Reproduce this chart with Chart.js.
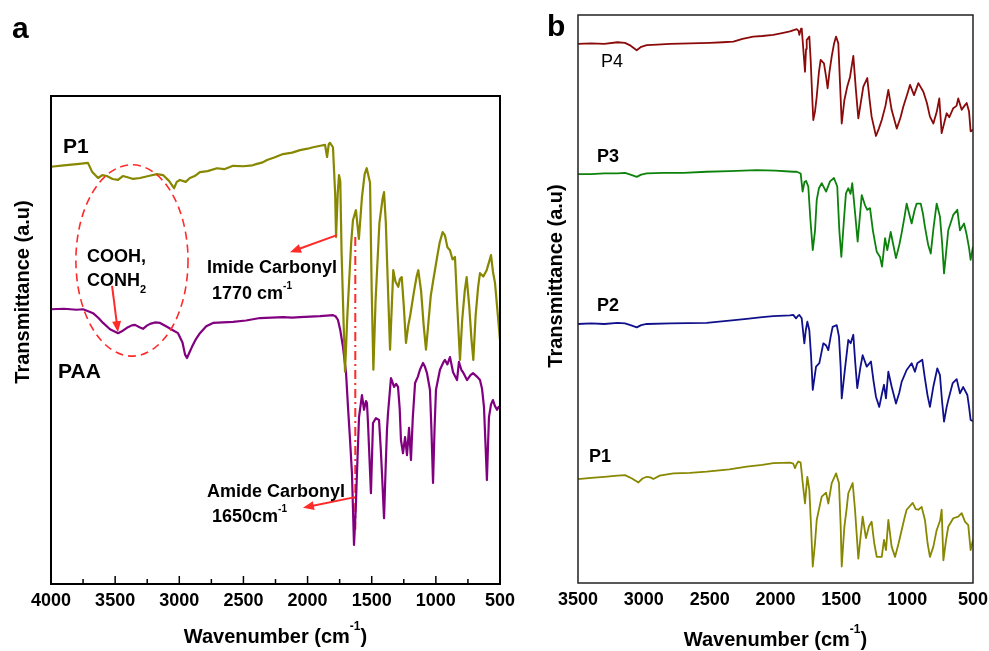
<!DOCTYPE html>
<html>
<head>
<meta charset="utf-8">
<script src="https://cdn.jsdelivr.net/npm/chart.js@4.4.1/dist/chart.umd.min.js"></script>
<style>
  html, body { margin: 0; padding: 0; background: #fff; }
  #wrap { position: relative; width: 989px; height: 651px; overflow: hidden; }
  canvas { position: absolute; top: 0; }
  #chartA { left: 0; }
  #chartB { left: 520px; }
</style>
</head>
<body>
<div id="wrap">
  <canvas id="chartA" width="520" height="651"></canvas>
  <canvas id="chartB" width="469" height="651"></canvas>
</div>
<script>
// ---- panel a: P1 and PAA (wavenumber, transmittance a.u.) ----
const p1aWn = [4000,3900,3780,3712,3680,3633,3600,3565,3520,3478,3440,3410,3360,3306,3240,3175,3127,3080,3041,3020,2995,2950,2917,2880,2839,2780,2706,2650,2581,2500,2430,2394,2350,2316,2260,2191,2120,2059,2000,1957,1900,1864,1848,1835,1825,1802,1785,1778,1765,1755,1745,1735,1708,1690,1660,1646,1623,1600,1576,1555,1539,1513,1500,1487,1470,1440,1415,1404,1390,1370,1357,1345,1332,1315,1293,1280,1266,1250,1233,1215,1202,1170,1150,1137,1115,1095,1077,1060,1040,1020,990,970,947,930,910,890,870,851,835,812,795,775,760,740,722,708,690,670,656,630,604,585,570,555,539,520,500];
const p1aT  = [85.5,85.8,86.1,86.3,84.5,83.2,83.8,83.6,83.0,82.8,83.6,83.4,83.0,83.2,83.6,84.0,83.8,82.6,81.1,82.4,82.8,82.4,83.2,83.6,84.4,84.6,85.2,85.0,85.7,85.6,85.8,86.1,86.4,86.9,87.4,88.1,88.4,88.9,89.2,89.5,89.8,90.0,87.5,90.1,90.4,89.5,80.0,71.1,80.0,83.8,82.5,68.0,43.5,55.0,70.0,74.6,76.6,70.7,79.3,84.0,85.2,82.2,60.0,43.9,58.0,74.0,79.0,80.3,74.0,58.0,48.0,56.0,64.3,62.0,60.9,62.5,62.9,57.0,49.4,53.0,54.7,60.0,63.0,64.3,60.0,53.0,48.0,53.0,59.0,62.3,67.0,70.0,72.1,71.5,69.0,68.4,66.5,67.0,58.0,45.9,54.0,60.0,62.9,57.0,50.0,45.9,55.0,61.0,63.7,63.0,64.3,66.0,67.4,64.0,61.7,56.0,50.0];

const paaWn = [4000,3900,3800,3750,3700,3672,3630,3594,3540,3477,3440,3408,3370,3345,3310,3283,3250,3228,3190,3150,3096,3050,3010,2975,2955,2940,2920,2901,2870,2839,2790,2737,2660,2581,2480,2371,2280,2191,2120,2059,1980,1903,1850,1802,1780,1763,1745,1724,1700,1685,1670,1654,1638,1625,1615,1599,1576,1560,1545,1537,1529,1506,1490,1467,1443,1430,1420,1404,1390,1381,1373,1350,1340,1326,1310,1295,1282,1272,1256,1240,1225,1209,1194,1180,1162,1140,1124,1100,1085,1069,1046,1035,1022,1010,999,968,940,929,910,890,866,835,820,800,788,757,730,710,680,656,640,625,612,602,594,586,570,555,540,523,510,500];
const paaT  = [56.3,56.4,56.2,56.3,55.8,55.5,54.5,53.5,52.2,51.4,51.9,52.5,53.0,53.1,52.6,52.3,53.0,53.3,53.6,53.5,52.7,52.0,51.4,49.5,47.0,46.3,47.5,48.6,50.2,51.4,52.8,53.5,53.6,53.7,54.0,54.5,54.6,54.7,54.6,54.7,54.8,54.9,55.0,55.1,54.8,54.1,52.0,48.6,43.2,36.3,30.0,22.7,8.0,15.0,22.7,34.2,38.7,35.7,37.5,37.1,33.0,18.6,33.0,34.0,33.6,28.0,22.7,13.5,25.0,31.6,35.0,42.2,41.5,40.4,41.0,40.4,36.0,29.5,26.8,30.1,26.4,32.0,25.4,34.0,41.2,42.5,43.9,45.3,44.5,43.2,39.8,32.0,20.7,32.0,39.8,43.9,45.5,45.9,45.0,46.5,43.4,41.8,45.5,43.8,43.4,41.8,42.8,43.2,42.5,41.8,40.0,36.3,28.0,21.3,28.0,34.2,36.8,37.7,36.5,35.7,36.3,36.1];

// marker for the amide carbonyl band
const amideWn = [1628, 1628];
const amideT  = [71.1, 11.1];

// ---- panel b: P4, P3, P2, P1 ----
const p4Wn = [3500,3400,3300,3200,3143,3100,3054,3020,2978,2900,2800,2649,2500,2400,2320,2250,2169,2100,2017,1950,1890,1839,1825,1819,1806,1800,1794,1776,1768,1763,1743,1733,1720,1713,1700,1687,1670,1657,1632,1615,1604,1590,1573,1555,1540,1523,1510,1497,1477,1455,1434,1409,1390,1371,1333,1303,1285,1270,1237,1215,1193,1165,1143,1118,1079,1050,1029,1000,978,948,915,877,850,827,801,775,756,738,700,680,650,625,612,586,565,548,530,518,500];
const p4T  = [94.9,95.0,94.9,95.2,95.1,94.6,93.8,94.4,94.7,94.8,94.9,95.0,95.1,95.2,95.3,95.8,96.2,96.3,96.5,96.8,97.1,97.5,97.2,96.5,97.6,97.3,95.6,90.0,94.0,95.6,96.2,92.1,85.0,81.5,83.0,85.6,90.0,92.1,91.5,89.0,87.1,90.0,92.7,95.0,96.2,95.0,88.0,80.9,85.0,87.4,89.1,92.8,87.0,81.8,87.4,88.9,85.0,82.1,78.7,80.0,81.5,84.0,86.8,83.3,80.0,82.0,83.9,86.0,87.7,85.9,88.0,86.5,84.5,82.1,80.9,83.0,85.3,79.2,82.7,82.0,83.6,84.0,85.3,83.3,84.0,84.5,83.0,79.5,79.8];

const p3Wn = [3500,3400,3300,3200,3143,3090,3054,3020,2978,2850,2700,2523,2350,2143,2000,1865,1839,1809,1794,1780,1768,1751,1735,1717,1700,1687,1670,1649,1616,1586,1556,1531,1515,1500,1480,1465,1447,1430,1417,1395,1376,1345,1320,1303,1282,1260,1231,1206,1191,1168,1151,1125,1105,1085,1060,1042,1020,1004,985,966,945,928,897,880,865,840,821,800,776,751,735,720,705,688,650,619,599,568,548,530,518,500];
const p3T  = [72.0,72.0,72.1,72.1,72.2,71.8,71.5,71.9,72.1,72.2,72.2,72.4,72.5,72.7,72.6,72.4,72.4,72.1,68.9,70.6,70.8,69.8,64.0,58.6,62.0,67.4,69.5,70.4,68.9,70.7,71.3,69.8,62.0,57.4,64.0,68.6,69.5,68.5,70.4,65.0,60.1,68.3,66.5,65.7,66.0,62.0,58.3,57.4,55.7,60.7,58.6,61.8,59.5,57.2,59.5,61.6,64.5,66.8,65.0,63.3,65.5,66.8,66.8,65.0,62.7,59.5,58.0,62.5,66.8,64.5,60.0,54.5,58.0,62.1,64.8,65.7,62.1,63.3,61.3,59.0,56.9,59.2];

const p2Wn = [3500,3400,3300,3200,3143,3090,3054,3020,2978,2800,2523,2350,2219,2100,2017,1890,1865,1844,1830,1819,1801,1781,1770,1758,1743,1730,1717,1692,1667,1637,1615,1599,1580,1566,1535,1518,1505,1497,1472,1447,1429,1409,1395,1379,1355,1338,1307,1275,1255,1237,1212,1190,1176,1161,1143,1118,1085,1060,1042,1004,966,941,923,885,865,845,827,801,771,751,735,720,700,688,654,624,599,574,543,530,518,500];
const p2T  = [45.6,45.7,45.6,45.8,45.7,45.3,45.0,45.4,45.6,45.7,45.8,46.2,46.5,46.8,47.0,47.1,47.2,46.6,47.0,47.2,46.6,42.2,44.5,46.0,44.5,40.0,34.0,38.1,38.7,42.2,41.8,41.0,43.5,45.1,45.4,43.4,38.0,32.5,37.8,42.8,42.2,43.7,39.0,34.3,38.0,40.1,38.1,39.0,35.5,32.8,31.0,33.5,34.9,32.5,37.2,34.6,31.6,33.5,35.4,37.5,38.7,37.2,38.7,39.3,36.0,33.0,31.0,34.6,37.8,36.6,32.0,28.4,31.0,32.2,35.2,35.9,33.4,34.5,33.1,31.0,28.7,28.5];

const p1bWn = [3500,3400,3300,3200,3143,3090,3041,3010,2978,2950,2927,2880,2775,2650,2523,2350,2219,2100,2017,1890,1865,1852,1840,1827,1809,1795,1776,1765,1758,1743,1730,1717,1700,1687,1665,1649,1616,1599,1573,1540,1518,1505,1497,1477,1460,1447,1414,1396,1371,1338,1313,1290,1270,1250,1231,1193,1176,1161,1143,1118,1092,1065,1042,1020,1004,958,935,915,890,865,845,827,801,776,750,738,725,705,688,650,612,586,561,536,518,500];
const p1bT  = [18.3,18.5,18.7,18.9,19.0,18.4,17.7,18.4,18.7,18.6,18.3,18.9,19.3,19.4,19.6,20.0,20.5,20.8,21.1,21.2,21.0,20.2,20.9,21.4,21.2,18.0,14.0,17.0,18.7,16.4,10.0,2.9,7.0,11.1,13.5,15.2,15.9,14.0,17.6,19.3,17.6,10.0,2.9,9.9,13.0,15.8,17.6,12.9,4.3,11.7,7.9,10.0,10.8,7.0,4.6,4.6,7.6,5.8,11.1,6.4,4.6,7.0,9.3,11.5,12.9,14.1,13.0,12.9,13.4,11.1,7.0,4.6,6.4,9.3,11.0,12.9,4.0,7.5,9.9,11.4,11.7,12.3,10.8,10.2,5.8,7.6];

const ticksA = [500, 1000, 1500, 2000, 2500, 3000, 3500, 4000];
const ticksB = [500, 1000, 1500, 2000, 2500, 3000, 3500];

const FONT = '"Liberation Sans", Arial, Helvetica, sans-serif';
Chart.defaults.font.family = FONT;
Chart.defaults.color = '#000';

function pts(xs, ys) {
  return xs.map((x, i) => ({ x: x, y: ys[i] }));
}

function line(label, xs, ys, color, width) {
  return {
    label: label,
    data: pts(xs, ys),
    showLine: true,
    borderColor: color,
    backgroundColor: color,
    borderWidth: width,
    borderJoinStyle: 'round',
    pointRadius: 0,
    tension: 0
  };
}

// draws text made of runs: [text, size, weight, dy]
function rich(ctx, runs, x, y, align) {
  let w = 0;
  runs.forEach(r => {
    ctx.font = `${r[2]} ${r[1]}px ${FONT}`;
    w += ctx.measureText(r[0]).width;
  });
  let cx = align === 'center' ? x - w / 2 : x;
  ctx.textAlign = 'left';
  ctx.textBaseline = 'alphabetic';
  runs.forEach(r => {
    ctx.font = `${r[2]} ${r[1]}px ${FONT}`;
    ctx.fillText(r[0], cx, y + (r[3] || 0));
    cx += ctx.measureText(r[0]).width;
  });
}

function arrow(ctx, x0, y0, x1, y1) {
  const a = Math.atan2(y1 - y0, x1 - x0), L = 11, W = 4.5;
  ctx.beginPath();
  ctx.moveTo(x0, y0);
  ctx.lineTo(x1 - 0.7 * L * Math.cos(a), y1 - 0.7 * L * Math.sin(a));
  ctx.stroke();
  ctx.beginPath();
  ctx.moveTo(x1, y1);
  ctx.lineTo(x1 - L * Math.cos(a) + W * Math.sin(a), y1 - L * Math.sin(a) - W * Math.cos(a));
  ctx.lineTo(x1 - L * Math.cos(a) - W * Math.sin(a), y1 - L * Math.sin(a) + W * Math.cos(a));
  ctx.closePath();
  ctx.fill();
}

function yTitle(ctx, x, y) {
  ctx.save();
  ctx.translate(x, y);
  ctx.rotate(-Math.PI / 2);
  ctx.font = `bold 20px ${FONT}`;
  ctx.textAlign = 'center';
  ctx.textBaseline = 'middle';
  ctx.fillStyle = '#000';
  ctx.fillText('Transmittance (a.u)', 0, 0);
  ctx.restore();
}

function xTitle(ctx, x, y) {
  ctx.fillStyle = '#000';
  rich(ctx, [['Wavenumber (cm', 20, 'bold'], ['-1', 12, 'bold', -13], [')', 20, 'bold']], x, y, 'center');
}

const decorA = {
  id: 'decorA',
  afterDraw(chart) {
    const ctx = chart.ctx, a = chart.chartArea;
    const xs = chart.scales.x, ys = chart.scales.y;
    const X = v => xs.getPixelForValue(v), Y = v => ys.getPixelForValue(v);
    ctx.save();
    // frame and inward ticks
    ctx.strokeStyle = '#000';
    ctx.lineWidth = 2;
    ctx.strokeRect(a.left, a.top, a.right - a.left, a.bottom - a.top);
    ctx.lineWidth = 1.5;
    for (let v = 750; v < 4000; v += 250) {
      const len = v % 500 === 0 ? 8 : 5;
      ctx.beginPath();
      ctx.moveTo(X(v), a.bottom);
      ctx.lineTo(X(v), a.bottom - len);
      ctx.stroke();
    }
    // dashed ellipse round the COOH / CONH2 band
    ctx.strokeStyle = '#ff2a2a';
    ctx.lineWidth = 1.6;
    ctx.setLineDash([8, 5]);
    const cx = X(3369), cy = Y(66.3);
    ctx.beginPath();
    ctx.ellipse(cx, cy, Math.abs(X(3369 - 437) - cx), Math.abs(Y(66.3 + 19.6) - cy), 0, 0, Math.PI * 2);
    ctx.stroke();
    ctx.setLineDash([]);
    // arrows
    ctx.fillStyle = '#ff2a2a';
    ctx.lineWidth = 2;
    arrow(ctx, X(1771), Y(71.5), X(2137), Y(68.0));
    arrow(ctx, X(3524), Y(61.1), X(3478), Y(51.6));
    arrow(ctx, X(1630), Y(17.8), X(2036), Y(15.6));
    // labels
    ctx.fillStyle = '#000';
    rich(ctx, [['P1', 21, 'bold']], X(3906), Y(88.3));
    rich(ctx, [['PAA', 21, 'bold']], X(3945), Y(42.2));
    rich(ctx, [['COOH,', 18, 'bold']], X(3719), Y(66.0));
    rich(ctx, [['CONH', 18, 'bold'], ['2', 11, 'bold', 7]], X(3719), Y(61.1));
    rich(ctx, [['Imide Carbonyl', 18, 'bold']], X(2784), Y(63.7));
    rich(ctx, [['1770 cm', 18, 'bold'], ['-1', 10, 'bold', -10]], X(2745), Y(58.4));
    rich(ctx, [['Amide Carbonyl', 18, 'bold']], X(2784), Y(17.8));
    rich(ctx, [['1650cm', 18, 'bold'], ['-1', 10, 'bold', -10]], X(2745), Y(12.7));
    // titles
    xTitle(ctx, (a.left + a.right) / 2, 643);
    yTitle(ctx, 23, 292);
    rich(ctx, [['a', 30, 'bold']], 12, 38);
    ctx.restore();
  }
};

const decorB = {
  id: 'decorB',
  afterDraw(chart) {
    const ctx = chart.ctx, a = chart.chartArea;
    const xs = chart.scales.x, ys = chart.scales.y;
    const X = v => xs.getPixelForValue(v), Y = v => ys.getPixelForValue(v);
    ctx.save();
    ctx.strokeStyle = '#222';
    ctx.lineWidth = 1.5;
    ctx.strokeRect(a.left, a.top, a.right - a.left, a.bottom - a.top);
    ctx.fillStyle = '#000';
    rich(ctx, [['P4', 18, 'normal']], X(3325), Y(90.8));
    rich(ctx, [['P3', 18, 'bold']], X(3356), Y(74.1));
    rich(ctx, [['P2', 18, 'bold']], X(3356), Y(47.9));
    rich(ctx, [['P1', 18, 'bold']], X(3416), Y(21.3));
    xTitle(ctx, (a.left + a.right) / 2, 646);
    yTitle(ctx, 36, 276);
    rich(ctx, [['b', 30, 'bold']], 27, 36);
    ctx.restore();
  }
};

function xScale(lo, hi, tickVals, h) {
  return {
    type: 'linear',
    min: lo,
    max: hi,
    reverse: true,
    grid: { display: false, drawTicks: false },
    border: { display: false },
    afterBuildTicks: s => { s.ticks = tickVals.map(v => ({ value: v })); },
    ticks: {
      autoSkip: false,
      maxRotation: 0,
      padding: 6,
      color: '#000',
      font: { size: 18, weight: 'bold' },
      callback: v => String(v)
    },
    afterFit: s => { s.height = h; }
  };
}

function yScale(w) {
  return {
    type: 'linear',
    min: 0,
    max: 100,
    ticks: { display: false },
    grid: { display: false, drawTicks: false },
    border: { display: false },
    afterFit: s => { s.width = w; }
  };
}

const baseOpts = {
  responsive: false,
  animation: false,
  plugins: { legend: { display: false }, tooltip: { enabled: false } }
};

new Chart(document.getElementById('chartA'), {
  type: 'scatter',
  data: {
    datasets: [
      line('P1', p1aWn, p1aT, '#878700', 2.2),
      line('PAA', paaWn, paaT, '#800080', 2.2),
      Object.assign(line('1650', amideWn, amideT, '#ff2a2a', 2), { borderDash: [9, 4, 2, 4] })
    ]
  },
  options: Object.assign({}, baseOpts, {
    layout: { padding: { top: 96, right: 20, left: 0, bottom: 0 } },
    scales: { x: xScale(500, 4000, ticksA, 67), y: yScale(51) }
  }),
  plugins: [decorA]
});

new Chart(document.getElementById('chartB'), {
  type: 'scatter',
  data: {
    datasets: [
      line('P4', p4Wn, p4T, '#8b0a0a', 1.8),
      line('P3', p3Wn, p3T, '#0c820c', 1.8),
      line('P2', p2Wn, p2T, '#10108c', 1.8),
      line('P1', p1bWn, p1bT, '#878700', 1.8)
    ]
  },
  options: Object.assign({}, baseOpts, {
    layout: { padding: { top: 15, right: 16, left: 0, bottom: 0 } },
    scales: { x: xScale(500, 3500, ticksB, 68), y: yScale(58) }
  }),
  plugins: [decorB]
});
</script>
</body>
</html>
